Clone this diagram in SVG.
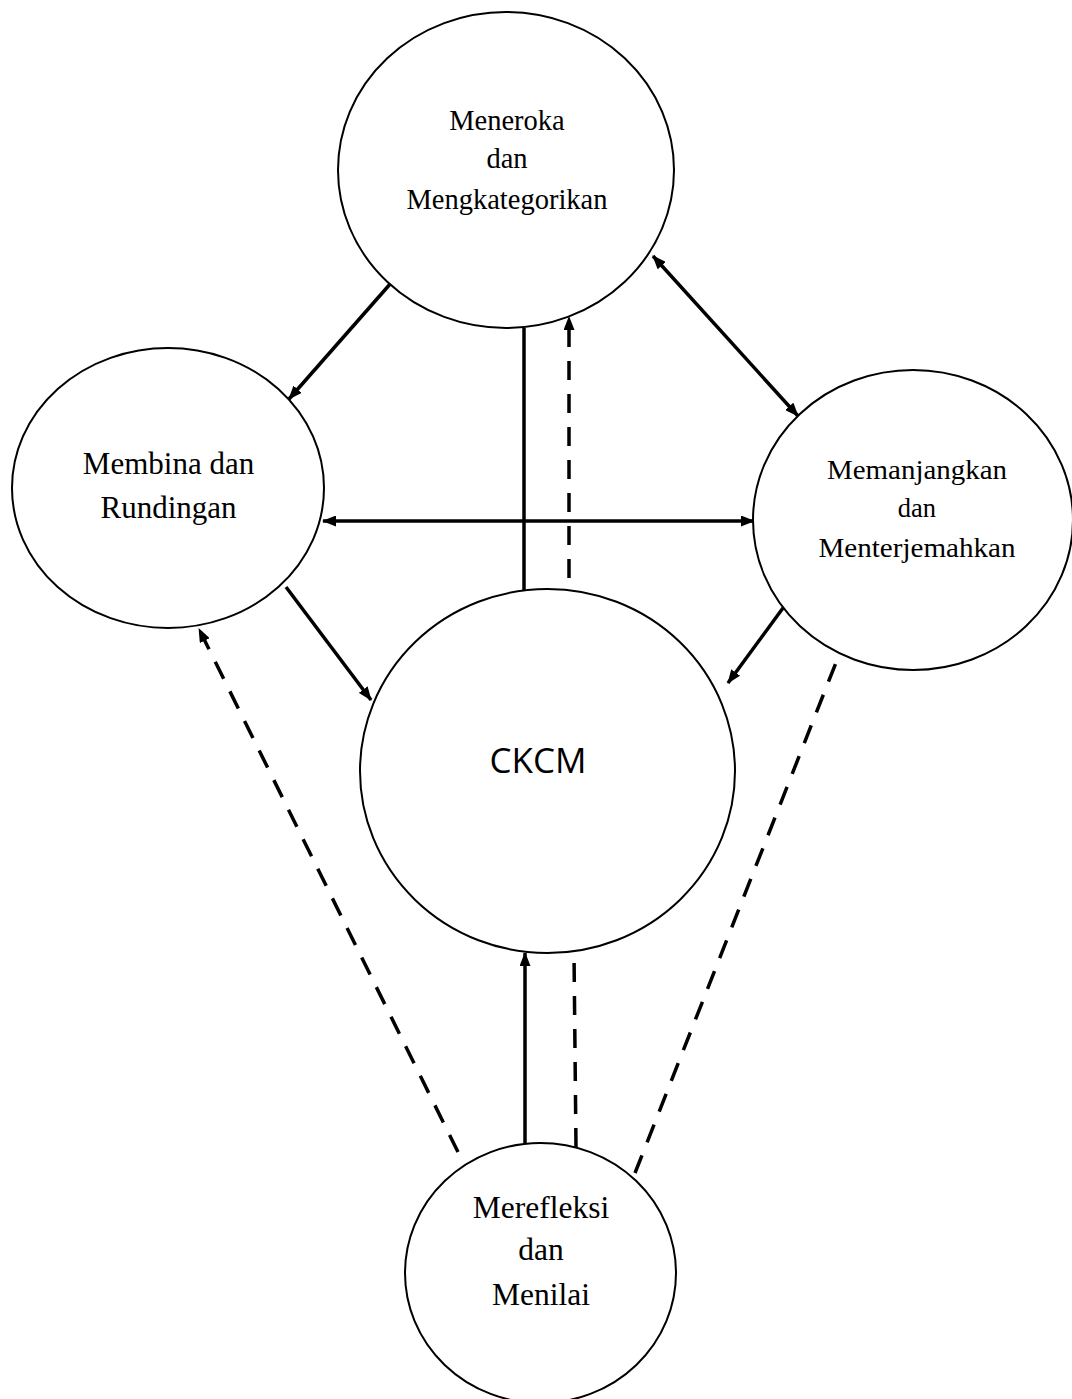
<svg xmlns="http://www.w3.org/2000/svg" width="1072" height="1399" viewBox="0 0 1072 1399">
<style>
.node{fill:#fff;stroke:#000;stroke-width:2}
.lbl{font-family:"Liberation Serif","Times New Roman",serif;fill:#000;text-anchor:middle}
.sans{font-family:"Open Sans","Liberation Sans",sans-serif;fill:#000;text-anchor:middle}
.c{fill:none;stroke:#000;stroke-width:3.5}
.d{stroke-dasharray:19 14}
</style>
<defs>
<marker id="ah" viewBox="0 0 14 11" refX="13" refY="5.5" markerWidth="14" markerHeight="11" markerUnits="userSpaceOnUse" orient="auto-start-reverse">
<path d="M0,0 L14,5.5 L0,11 z" fill="#000"/>
</marker>
</defs>
<rect width="1072" height="1399" fill="#fff"/>
<g id="connectors">
<line class="c" x1="391" y1="283" x2="289" y2="399" marker-end="url(#ah)"/>
<line class="c" x1="653" y1="256" x2="798" y2="416" marker-start="url(#ah)" marker-end="url(#ah)"/>
<line class="c" x1="524" y1="328" x2="524" y2="590"/>
<line class="c d" x1="569" y1="578" x2="569" y2="317" marker-end="url(#ah)"/>
<line class="c" x1="323" y1="521" x2="754" y2="521" marker-start="url(#ah)" marker-end="url(#ah)"/>
<line class="c" x1="286" y1="587" x2="371" y2="700" marker-end="url(#ah)"/>
<line class="c" x1="783" y1="608" x2="728" y2="683" marker-end="url(#ah)"/>
<line class="c d" x1="458" y1="1152" x2="199" y2="629" marker-end="url(#ah)"/>
<line class="c" x1="525" y1="1143" x2="525" y2="953" marker-end="url(#ah)"/>
<line class="c d" x1="576" y1="1147" x2="574" y2="953"/>
<line class="c d" x1="635" y1="1173" x2="839" y2="655"/>
</g>
<g id="node-meneroka">
<ellipse class="node" cx="506" cy="170" rx="168" ry="158"/>
<text class="lbl" font-size="28.5" x="507" y="130">Meneroka</text>
<text class="lbl" font-size="28.5" x="507" y="168">dan</text>
<text class="lbl" font-size="28.5" x="507" y="209">Mengkategorikan</text>
</g>
<g id="node-membina">
<ellipse class="node" cx="168" cy="488" rx="156" ry="140"/>
<text class="lbl" font-size="31" x="168.5" y="474">Membina dan</text>
<text class="lbl" font-size="31" x="168.5" y="518">Rundingan</text>
</g>
<g id="node-memanjangkan">
<ellipse class="node" cx="913" cy="520" rx="160" ry="150"/>
<text class="lbl" font-size="26.5" x="917" y="479" textLength="180" lengthAdjust="spacingAndGlyphs">Memanjangkan</text>
<text class="lbl" font-size="26.5" x="917" y="517">dan</text>
<text class="lbl" font-size="26.5" x="917" y="557" textLength="197" lengthAdjust="spacingAndGlyphs">Menterjemahkan</text>
</g>
<g id="node-ckcm">
<ellipse class="node" cx="547.5" cy="771" rx="187.5" ry="182"/>
<text class="sans" font-size="35" x="538" y="773">CKCM</text>
</g>
<g id="node-merefleksi">
<ellipse class="node" cx="540.5" cy="1273" rx="135.5" ry="130"/>
<text class="lbl" font-size="31.5" x="541" y="1218">Merefleksi</text>
<text class="lbl" font-size="31.5" x="541" y="1260">dan</text>
<text class="lbl" font-size="31.5" x="541" y="1305">Menilai</text>
</g>
</svg>
